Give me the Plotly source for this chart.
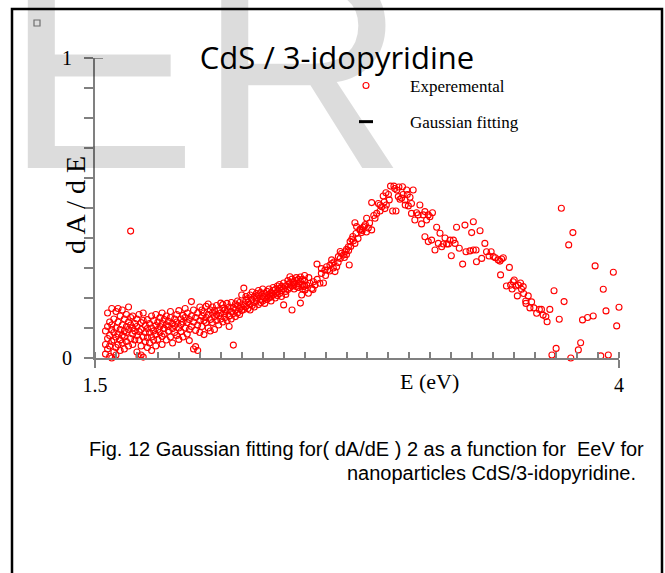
import plotly.graph_objects as go

# ---------------- data ----------------
E_a = [1.55, 1.55, 1.55, 1.56, 1.56, 1.56, 1.56, 1.57, 1.57, 1.57, 1.57, 1.58, 1.58, 1.58, 1.58, 1.58,
       1.59, 1.59, 1.59, 1.59, 1.60, 1.60, 1.60, 1.60, 1.60, 1.61, 1.61, 1.61, 1.61, 1.62, 1.62, 1.62, 1.62,
       1.63, 1.63, 1.63, 1.63, 1.64, 1.64, 1.64, 1.64, 1.65, 1.65, 1.65, 1.65, 1.66, 1.66, 1.66, 1.66,
       1.67, 1.67, 1.67, 1.67, 1.68, 1.68, 1.68, 1.68, 1.69, 1.69, 1.69, 1.70, 1.70, 1.70, 1.70,
       1.71, 1.71, 1.71, 1.71, 1.72, 1.72, 1.72, 1.72, 1.73, 1.73, 1.73, 1.73, 1.74, 1.74, 1.74,
       1.75, 1.75, 1.75, 1.75]
y_a = [.013, .045, .090, .105, .030, .065, .150, .005, .120, .075, .040, .000, .095, .055, .110, .165,
       .020, .085, .130, .060, .010, .100, .070, .155, .035, .120, .080, .045, .165, .095, .060, .025, .140,
       .110, .075, .160, .050, .090, .130, .030, .070, .105, .055, .145, .085, .120, .040, .170, .095,
       .423, .065, .110, .135, .080, .100, .045, .140, .115, .060, .090, .130, .075, .020, .105,
       .005, .088, .145, .060, .010, .118, .095, .040, .003, .070, .125, .150, .085, .108, .055,
       .098, .128, .068, .035]

E_b = [1.76, 1.76, 1.76, 1.77, 1.77, 1.77, 1.77, 1.78, 1.78, 1.78, 1.79, 1.79, 1.79, 1.79, 1.80, 1.80, 1.80,
       1.81, 1.81, 1.81, 1.82, 1.82, 1.82, 1.82, 1.83, 1.83, 1.83, 1.84, 1.84, 1.84, 1.85, 1.85, 1.85,
       1.86, 1.86, 1.86, 1.87, 1.87, 1.87, 1.88, 1.88, 1.88, 1.89, 1.89, 1.89, 1.90, 1.90, 1.90,
       1.91, 1.91, 1.91, 1.92, 1.92, 1.92, 1.93, 1.93, 1.93, 1.94, 1.94, 1.94, 1.95, 1.95, 1.95,
       1.96, 1.96, 1.96, 1.97, 1.97, 1.97, 1.98, 1.98, 1.98, 1.99, 1.99, 1.99, 2.00, 2.00, 2.00]
y_b = [.050, .115, .085, .140, .070, .100, .025, .090, .125, .060, .108, .145, .078, .040, .095, .120, .062,
       .135, .085, .105, .072, .115, .150, .045, .098, .128, .080, .110, .060, .140, .090, .122, .105,
       .070, .135, .155, .098, .115, .050, .130, .085, .108, .145, .075, .120, .100, .158, .062,
       .130, .112, .088, .142, .070, .120, .100, .165, .135, .080, .118, .150, .095, .128, .058,
       .188, .140, .105, .030, .120, .160, .038, .092, .135, .025, .150, .110, .125, .170, .085]

E_c = [2.01, 2.01, 2.01, 2.02, 2.02, 2.02, 2.03, 2.03, 2.03, 2.04, 2.04, 2.04, 2.05, 2.05, 2.05,
       2.06, 2.06, 2.06, 2.07, 2.07, 2.07, 2.08, 2.08, 2.08, 2.09, 2.09, 2.09, 2.10, 2.10, 2.10,
       2.11, 2.11, 2.11, 2.12, 2.12, 2.12, 2.13, 2.13, 2.13, 2.14, 2.14, 2.14, 2.15, 2.15, 2.15,
       2.16, 2.16, 2.16, 2.17, 2.17, 2.17, 2.18, 2.18, 2.18, 2.19, 2.19, 2.19, 2.20, 2.20, 2.20,
       2.21, 2.21, 2.21, 2.22, 2.22, 2.22, 2.23, 2.23, 2.23, 2.24, 2.24, 2.24, 2.25, 2.25, 2.25]
y_c = [.140, .105, .160, .125, .078, .150, .118, .172, .135, .180, .100, .145, .128, .160, .090,
       .150, .118, .170, .138, .095, .158, .145, .125, .175, .110, .160, .140, .183, .130, .150,
       .165, .120, .178, .148, .135, .160, .182, .125, .158, .170, .140, .105, .185, .155, .130,
       .043, .168, .148, .180, .160, .138, .175, .150, .190, .165, .185, .145, .170, .210, .158,
       .233, .180, .162, .192, .172, .205, .185, .165, .198, .178, .210, .160, .220, .195, .175]

E_d = [2.26, 2.26, 2.26, 2.27, 2.27, 2.27, 2.28, 2.28, 2.28, 2.29, 2.29, 2.29, 2.30, 2.30, 2.30,
       2.31, 2.31, 2.31, 2.32, 2.32, 2.32, 2.33, 2.33, 2.33, 2.34, 2.34, 2.34, 2.35, 2.35, 2.35,
       2.36, 2.36, 2.36, 2.37, 2.37, 2.37, 2.38, 2.38, 2.38, 2.39, 2.39, 2.39, 2.40, 2.40, 2.40,
       2.41, 2.41, 2.41, 2.42, 2.42, 2.42, 2.43, 2.43, 2.43, 2.44, 2.44, 2.44, 2.45, 2.45, 2.45,
       2.46, 2.46, 2.46, 2.47, 2.47, 2.47, 2.48, 2.48, 2.48, 2.49, 2.49, 2.49, 2.50, 2.50, 2.50]
y_d = [.185, .205, .170, .215, .190, .200, .178, .210, .225, .195, .185, .218, .205, .230, .190,
       .200, .215, .182, .222, .208, .195, .212, .230, .200, .218, .205, .190, .225, .210, .235,
       .215, .200, .228, .220, .240, .208, .232, .215, .245, .225, .205, .238, .177, .230, .250,
       .222, .240, .212, .245, .228, .258, .271, .235, .250, .160, .263, .240, .252, .230, .245,
       .258, .238, .268, .248, .262, .235, .183, .255, .270, .245, .262, .230, .258, .275, .240]

E_e = [2.486, 2.494, 2.502, 2.51, 2.518, 2.526, 2.534, 2.542, 2.55, 2.559,
       2.573, 2.58, 2.59, 2.597, 2.605, 2.61, 2.621, 2.629, 2.637, 2.645,
       2.653, 2.661, 2.67, 2.677, 2.685, 2.693, 2.70, 2.709, 2.713, 2.717,
       2.725, 2.733, 2.74, 2.74,
       2.52, 2.54, 2.56, 2.58, 2.60, 2.62, 2.63, 2.64, 2.66, 2.67,
       2.69, 2.70, 2.71, 2.72, 2.73, 2.745, 2.755, 2.765, 2.775, 2.785, 2.795]
y_e = [.21, .238, .227, .243, .216, .249, .232, .254, .243, .313,
       .249, .282, .25, .293, .304, .293, .31, .327, .30, .288,
       .304, .338, .332, .349, .343, .354, .362, .371, .31, .388,
       .396, .391, .451, .382,
       .268, .228, .262, .298, .275, .290, .315, .320, .318, .355,
       .335, .345, .358, .372, .405, .415, .398, .430, .425, .440, .420]

E_f = [2.748, 2.764, 2.772, 2.78, 2.796, 2.804, 2.82, 2.82, 2.836, 2.844,
       2.852, 2.86, 2.868, 2.875, 2.883, 2.888, 2.89, 2.904, 2.91, 2.92,
       2.926, 2.936, 2.94, 2.947, 2.955, 2.963, 2.967, 2.979, 2.987, 2.995,
       3.003, 3.018, 2.93, 2.95, 2.97, 2.90, 2.86, 2.88, 2.81, 2.79, 2.83, 2.98, 2.99, 3.01]
y_f = [.438, .427, .418, .436, .466, .433, .518, .427, .466, .482,
       .515, .51, .504, .54, .498, .551, .51, .527, .573, .49,
       .573, .49, .56, .538, .529, .533, .571, .527, .56, .507,
       .536, .56, .565, .57, .545, .545, .49, .52, .45, .445, .475, .51, .545, .515]

E_g = [3.01, 3.026, 3.034, 3.042, 3.05, 3.058, 3.066, 3.074, 3.082, 3.09,
       3.098, 3.11, 3.074, 3.09, 3.106, 3.122, 3.13, 3.138, 3.146, 3.154,
       3.162, 3.17, 3.178, 3.186, 3.194, 3.20, 3.21, 3.218, 3.225, 3.265,
       3.305, 3.297, 3.337, 3.238, 3.254, 3.27, 3.289, 3.305, 3.318, 3.32,
       3.345, 3.36, 3.368, 3.38, 3.39, 3.40, 3.41, 3.424, 3.432, 3.44,
       3.448, 3.477, 3.435]
y_g = [.482, .46, .484, .477, .51, .447, .477, .488, .46, .477,
       .471, .484, .404, .388, .393, .36, .436, .382, .416, .371,
       .38, .40, .38, .38, .393, .341, .393, .382, .436, .443,
       .454, .418, .424, .366, .313, .354, .357, .36, .36, .321,
       .332, .382, .354, .34, .354, .338, .334, .327, .323, .33,
       .334, .302, .277]

E_h = [3.463, 3.483, 3.495, 3.508, 3.52, 3.535, 3.543, 3.515, 3.567, 3.556,
       3.575, 3.583, 3.594, 3.607, 3.62, 3.63, 3.638, 3.651, 3.657, 3.67,
       3.49, 3.50, 3.53, 3.545, 3.555]
y_h = [.24, .243, .254, .24, .243, .229, .238, .207, .207, .182,
       .167, .187, .167, .149, .162, .162, .143, .138, .121, .162,
       .23, .26, .25, .215, .19]

E_i = [3.68, 3.69, 3.70, 3.715, 3.725, 3.738, 3.76, 3.77, 3.78, 3.806, 3.817,
       3.826, 3.85, 3.877, 3.886, 3.913, 3.925, 3.938, 3.949, 3.973, 3.989, 4.0]
y_i = [.01, .224, .032, .129, .499, .188, .377, 0.0, .418, .027, .051,
       .127, .135, .14, .307, .007, .229, .157, .01, .286, .107, .169]

E_exp = E_a + E_b + E_c + E_d + E_e + E_f + E_g + E_h + E_i
dAdE_exp = y_a + y_b + y_c + y_d + y_e + y_f + y_g + y_h + y_i

x_range = [1.5, 4]
y_range = [0, 1]
x_tickvals = [1.5, 4]
x_ticktext = ["1.5", "4"]
y_tickvals = [0, 1]
y_ticktext = ["0", "1"]

title_text = "CdS / 3-idopyridine"
legend_names = ["Experemental", "Gaussian fitting"]
caption_line1 = "Fig. 12 Gaussian fitting for( dA/dE ) 2 as a function for\u00a0 EeV for"
caption_line2 = "nanoparticles CdS/3-idopyridine."

# ---------------- layout geometry ----------------
W, H = 665, 573
L, R, T, B = 95, 46, 58, 215
PW, PH = W - L - R, H - T - B


def fx(p):
    return (p - L) / PW


def fy(p):
    return (H - B - p) / PH


SERIF = "Liberation Serif, Times New Roman, serif"
SANS = "Liberation Sans, Arial, sans-serif"
AXC = "#808080"

fig = go.Figure()
fig.add_trace(go.Scatter(
    x=E_exp, y=dAdE_exp, mode="markers", name=legend_names[0], cliponaxis=False,
    legendgroup="a",
    marker=dict(symbol="circle-open", size=6, color="#ff0000", line=dict(width=1.1, color="#ff0000")),
))
fig.add_trace(go.Scatter(
    x=[None], y=[None], mode="markers", name=legend_names[1], legendgroup="b",
    marker=dict(symbol="line-ew-open", size=10, color="black", line=dict(width=3, color="black")),
))

fig.update_layout(
    width=W, height=H, autosize=False,
    margin=dict(l=L, r=R, t=T, b=B, pad=0),
    paper_bgcolor="white", plot_bgcolor="rgba(0,0,0,0)",
    font=dict(family=SERIF, color="black"),
    title=dict(text=title_text, x=337 / W, y=1 - 58 / H, xanchor="center", yanchor="middle",
               font=dict(family="Open Sans, sans-serif", size=31, color="black")),
    showlegend=True,
    legend=dict(x=fx(322), y=fy(68), xanchor="left", yanchor="top", bgcolor="rgba(0,0,0,0)",
                itemwidth=78, tracegroupgap=11, font=dict(family=SERIF, size=17, color="black")),
    xaxis=dict(range=x_range, showline=True, linecolor=AXC, linewidth=2, showgrid=False, zeroline=False,
               tickvals=x_tickvals, ticktext=x_ticktext, ticks="outside", ticklen=8, tickwidth=1.5,
               tickcolor=AXC, tickfont=dict(family=SERIF, size=20, color="black"),
               minor=dict(dtick=0.1, tick0=1.5, ticks="inside", ticklen=6, tickwidth=1.5, tickcolor=AXC)),
    yaxis=dict(range=y_range, showline=True, linecolor=AXC, linewidth=2, showgrid=False, zeroline=False,
               tickvals=y_tickvals, ticktext=y_ticktext, ticks="outside", ticklen=9, tickwidth=1.5,
               tickcolor=AXC, tickfont=dict(family=SERIF, size=20, color="black"), ticklabelstandoff=8,
               minor=dict(dtick=0.1, tick0=0, ticks="outside", ticklen=9, tickwidth=1.5, tickcolor=AXC)),
)

annotations = [
    # faint watermark letters behind the chart
    dict(text="ER", x=fx(2), y=fy(-97), xref="paper", yref="paper", xanchor="left", yanchor="top",
         showarrow=False, font=dict(family=SANS, size=290, color="rgba(0,0,0,0.137)")),
    dict(text="E (eV)", x=fx(429), y=fy(381), xref="paper", yref="paper", xanchor="center",
         yanchor="middle", showarrow=False, font=dict(family=SERIF, size=22, color="black")),
    dict(text="d A / d E", x=fx(75), y=fy(205), xref="paper", yref="paper", xanchor="center",
         yanchor="middle", textangle=-90, showarrow=False, font=dict(family=SERIF, size=28, color="black")),
    dict(text=caption_line1, x=fx(646), y=fy(449), xref="paper", yref="paper", xanchor="right",
         yanchor="middle", showarrow=False, font=dict(family=SANS, size=20, color="black")),
    dict(text=caption_line2, x=fx(638), y=fy(473), xref="paper", yref="paper", xanchor="right",
         yanchor="middle", showarrow=False, font=dict(family=SANS, size=20, color="black")),
]
fig.update_layout(annotations=annotations)

shapes = [
    # page frame
    dict(type="rect", xref="paper", yref="paper", x0=fx(12), x1=fx(662), y0=fy(600), y1=fy(9),
         line=dict(color="black", width=2.5), fillcolor="rgba(0,0,0,0)", layer="above"),
    # small handle square
    dict(type="rect", xref="paper", yref="paper", x0=fx(34), x1=fx(40), y0=fy(26), y1=fy(20),
         line=dict(color=AXC, width=1.2), fillcolor="white", layer="above"),
    # cap on top of the y axis
    dict(type="line", xref="paper", yref="y", x0=0, x1=fx(103), y0=1, y1=1,
         line=dict(color=AXC, width=1.5), layer="above"),
]
fig.update_layout(shapes=shapes)

fig.write_html("out.html")
